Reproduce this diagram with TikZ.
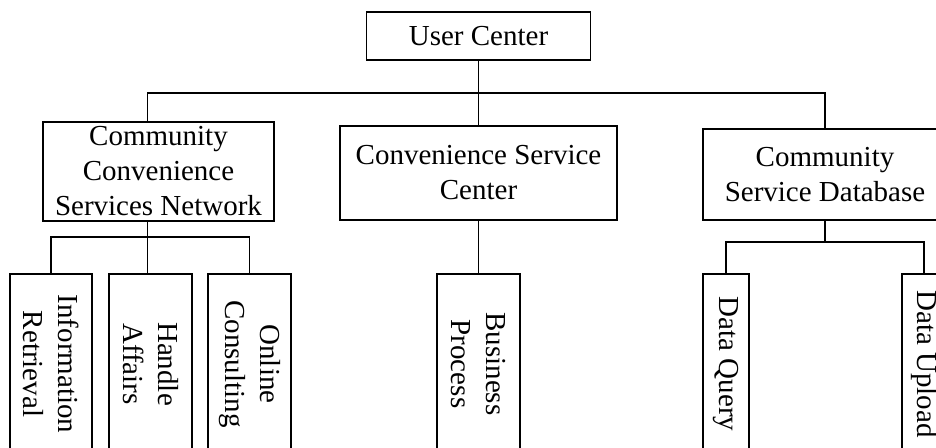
\documentclass[tikz,border=0pt]{standalone}
\usepackage{fontspec}
\setmainfont{Liberation Serif}
\usepackage{tikz}

\begin{document}
\begin{tikzpicture}[x=5pt,y=5pt]
\tikzstyle{every node}+=[inner sep=0pt, align=center, font=\fontsize{14.5}{17.5}\selectfont]
\tikzstyle{box}=[draw=black, line width=0.8pt]
\tikzstyle{leaf}=[box, rotate=-90, minimum width=90pt, minimum height=41.5pt]
\path [use as bounding box, clip] (0,0) rectangle (93.6,-44.8);
\node [box, minimum width=112pt, minimum height=24pt] (user) at (47.85,-3.6) {User Center};
\node [box, minimum width=115.5pt, minimum height=49.5pt] (network) at (15.85,-17.15) {Community\\Convenience\\Services Network};
\node [box, minimum width=138.5pt, minimum height=47pt] (service) at (47.85,-17.3) {Convenience Service\\Center};
\node [box, minimum width=122pt, minimum height=45.5pt] (database) at (82.5,-17.45) {Community\\Service Database};
\node [leaf, minimum height=41pt] (retrieval) at (5.1,-36.4) {Information\\Retrieval};
\node [leaf] (affairs) at (15.05,-36.4) {Handle\\Affairs};
\node [leaf] (consulting) at (24.95,-36.4) {Online\\Consulting};
\node [leaf] (process) at (47.85,-36.4) {Business\\Process};
\node [leaf, minimum height=23pt] (query) at (72.6,-36.4) {Data Query};
\node [leaf, minimum height=22pt] (upload) at (92.4,-36.4) {Data Upload};
\coordinate (hub) at (47.85,-9.3);
\coordinate (netjoin) at (14.75,-23.7);
\coordinate (dbjoin) at (82.5,-24.2);
\draw [black, line width=0.8pt] (user.south) -- (service.north);
\draw [black, line width=0.8pt] (network.north -| netjoin) |- (hub) -| (database.north);
\draw [black, line width=0.8pt] (network.south -| netjoin) -- (affairs.west -| netjoin);
\draw [black, line width=0.8pt] (retrieval.west) |- (netjoin) -| (consulting.west);
\draw [black, line width=0.8pt] (service.south) -- (process.west);
\draw [black, line width=0.8pt] (database.south) -- (dbjoin);
\draw [black, line width=0.8pt] (query.west) |- (dbjoin) -| (upload.west);
\end{tikzpicture}
\end{document}
